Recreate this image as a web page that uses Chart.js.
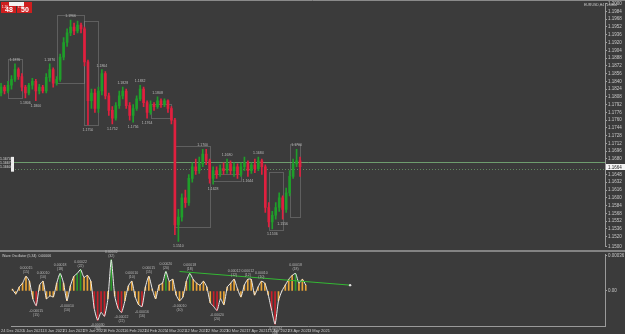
<!DOCTYPE html>
<html>
<head>
<meta charset="utf-8">
<script src="https://cdn.jsdelivr.net/npm/chart.js@4.4.1/dist/chart.umd.min.js"></script>
<style>
body { margin: 0; background: #3b3b3b; overflow: hidden; }
#wrap { position: relative; width: 625px; height: 334px; }
.pane { position: absolute; left: 0; }
</style>
</head>
<body>
<div id="wrap">
  <div class="pane" style="top:0"><canvas id="priceChart" width="625" height="250"></canvas></div>
  <div class="pane" style="top:250px"><canvas id="oscChart" width="625" height="84"></canvas></div>
</div>
<script>
// ****** datos de velas ******
const opens = [1.1816,1.1828,1.1820,1.1832,1.1844,1.1864,1.1850,1.1828,1.1816,1.1832,
  1.1840,1.1820,1.1828,1.1820,1.1848,1.1864,1.1836,1.1844,1.1890,1.1920,
  1.1940,1.1952,1.1944,1.1956,1.1948,1.1880,1.1800,1.1816,1.1784,1.1820,
  1.1856,1.1810,1.1780,1.1764,1.1790,1.1810,1.1820,1.1790,1.1770,1.1784,
  1.1804,1.1824,1.1796,1.1776,1.1792,1.1788,1.1800,1.1792,1.1800,1.1784,
  1.1760,1.1544,1.1560,1.1600,1.1590,1.1640,1.1664,1.1656,1.1670,1.1690,
  1.1676,1.1640,1.1656,1.1648,1.1660,1.1656,1.1670,1.1656,1.1664,1.1648,
  1.1664,1.1672,1.1656,1.1668,1.1660,1.1676,1.1664,1.1580,1.1550,1.1564,
  1.1580,1.1600,1.1576,1.1610,1.1644,1.1670,1.1676];
const closes = [1.1828,1.1820,1.1832,1.1844,1.1864,1.1850,1.1828,1.1816,1.1832,1.1840,
  1.1820,1.1828,1.1820,1.1848,1.1864,1.1836,1.1844,1.1890,1.1920,1.1940,
  1.1952,1.1944,1.1956,1.1948,1.1880,1.1800,1.1816,1.1784,1.1820,1.1856,
  1.1810,1.1780,1.1764,1.1790,1.1810,1.1820,1.1790,1.1770,1.1784,1.1804,
  1.1824,1.1796,1.1776,1.1792,1.1788,1.1800,1.1792,1.1800,1.1784,1.1760,
  1.1544,1.1560,1.1600,1.1590,1.1640,1.1664,1.1656,1.1670,1.1690,1.1676,
  1.1640,1.1656,1.1648,1.1660,1.1656,1.1670,1.1656,1.1664,1.1648,1.1664,
  1.1672,1.1656,1.1668,1.1660,1.1676,1.1664,1.1580,1.1550,1.1564,1.1580,
  1.1600,1.1576,1.1610,1.1644,1.1670,1.1676,1.1664];
const highs = [1.1836,1.1832,1.1840,1.1852,1.1876,1.1868,1.1856,1.1832,1.1836,1.1846,
  1.1844,1.1834,1.1832,1.1856,1.1876,1.1868,1.1850,1.1896,1.1930,1.1948,
  1.1966,1.1960,1.1964,1.1960,1.1952,1.1884,1.1824,1.1824,1.1828,1.1864,
  1.1860,1.1816,1.1788,1.1796,1.1820,1.1828,1.1824,1.1796,1.1792,1.1810,
  1.1832,1.1828,1.1800,1.1800,1.1796,1.1808,1.1804,1.1804,1.1802,1.1788,
  1.1764,1.1576,1.1608,1.1616,1.1648,1.1672,1.1680,1.1684,1.1700,1.1700,
  1.1680,1.1664,1.1664,1.1668,1.1672,1.1680,1.1676,1.1672,1.1670,1.1672,
  1.1684,1.1676,1.1672,1.1680,1.1684,1.1680,1.1668,1.1590,1.1572,1.1590,
  1.1610,1.1604,1.1620,1.1656,1.1680,1.1700,1.1684];
const lows = [1.1810,1.1814,1.1816,1.1824,1.1840,1.1844,1.1820,1.1806,1.1812,1.1824,
  1.1800,1.1814,1.1816,1.1816,1.1840,1.1828,1.1832,1.1840,1.1884,1.1912,
  1.1934,1.1936,1.1940,1.1940,1.1872,1.1750,1.1784,1.1776,1.1776,1.1812,
  1.1804,1.1770,1.1752,1.1760,1.1784,1.1804,1.1784,1.1760,1.1756,1.1780,
  1.1800,1.1788,1.1764,1.1772,1.1780,1.1784,1.1786,1.1788,1.1776,1.1752,
  1.1524,1.1510,1.1552,1.1580,1.1584,1.1632,1.1648,1.1650,1.1664,1.1668,
  1.1630,1.1628,1.1640,1.1644,1.1648,1.1650,1.1648,1.1644,1.1640,1.1644,
  1.1656,1.1644,1.1650,1.1652,1.1656,1.1648,1.1570,1.1540,1.1536,1.1556,
  1.1572,1.1556,1.1570,1.1604,1.1640,1.1664,1.1644];

// ****** oscilador ******
const oscValues = [2,-3,4,8,15,10,-8,-15,6,10,
  -8,-5,-6,8,18,8,-10,5,15,18,
  22,14,16,10,-18,-30,-22,-26,-8,32,
  -5,-18,-22,-10,5,10,-6,-14,-16,4,
  15,2,-8,6,8,20,10,12,-4,-10,
  -6,10,18,12,8,6,10,4,-12,-16,
  -20,-8,-14,4,8,12,2,-6,6,12,
  12,-4,4,10,8,-4,-20,-34,-10,0,
  6,12,16,18,8,12,6];
const oscMarks = [4,7,9,14,16,20,25,29,32,35,38,40,45,49,52,60,65,69,73,77,83];
const trendX = [49, 99];
const trendY = [20, 6];
const oscTicks = [0, 36];

// ****** eje de tiempo ******
const tickIdx = [0,6,12,18,24,30,36,42,48,54,60,66,72,78,84,90];
const timeLabels = ['24 Dec 2020','5 Jan 2021','13 Jan 2021','21 Jan 2021','29 Jan 2021','8 Feb 2021',
  '16 Feb 2021','24 Feb 2021','4 Mar 2021','12 Mar 2021','22 Mar 2021','30 Mar 2021',
  '7 Apr 2021','15 Apr 2021','23 Apr 2021','3 May 2021'];

// ****** niveles, cajas y etiquetas ******
const levels = [1.1674, 1.1660];
const levelNames = ['1.16740', '1.16670', '1.16600'];
const boxes = [[2,6,1.1886,1.1806],[16,24,1.1976,1.1836],[24,28,1.1964,1.1750],
  [43,49,1.1794,1.1764],[50,60,1.1706,1.1540],[61,69,1.1650,1.1634],
  [77,81,1.1654,1.1534],[83,86,1.1710,1.1560]];
const swingHighs = [4,14,20,29,35,40,45,58,65,74,85];
const swingLows = [7,10,25,32,38,42,51,61,71,78,81];

const xMin = -0.3, xMax = 173.7;
const GREEN = '#1f9e2a', RED = '#e0203f';

const isUp = closes.map((c, i) => c >= opens[i]);
const candleColors = isUp.map(u => u ? GREEN : RED);

function fixWidth(s) { s.width = 20; }

/****** Gráfica de precio ******/
const priceDecor = {
  id: 'priceDecor',
  beforeDatasetsDraw(chart) {
    const {ctx, scales: {x, y}, chartArea} = chart;
    ctx.save();
    ctx.lineWidth = 1;
    ctx.strokeStyle = 'rgba(150,150,150,0.4)';
    boxes.forEach(b => {
      const x0 = Math.round(x.getPixelForValue(b[0])), x1 = Math.round(x.getPixelForValue(b[1]));
      const y0 = Math.round(y.getPixelForValue(b[2])), y1 = Math.round(y.getPixelForValue(b[3]));
      ctx.strokeRect(x0 + 0.5, y0 + 0.5, x1 - x0, y1 - y0);
    });
    // lineas de nivel
    levels.forEach((lv, k) => {
      const py = Math.round(y.getPixelForValue(lv)) + 0.5;
      ctx.strokeStyle = k === 0 ? 'rgba(120,175,120,0.85)' : 'rgba(110,160,110,0.75)';
      ctx.setLineDash(k === 0 ? [] : [1, 2]);
      ctx.beginPath();
      ctx.moveTo(12, py);
      ctx.lineTo(chartArea.right, py);
      ctx.stroke();
    });
    ctx.setLineDash([]);
    ctx.restore();
  },
  afterDatasetsDraw(chart) {
    const {ctx, scales: {x, y}, chartArea} = chart;
    ctx.save();
    ctx.font = '3.5px Arial';
    ctx.fillStyle = '#bcbcbc';
    ctx.textAlign = 'center';
    swingHighs.forEach(i => {
      ctx.fillText(highs[i].toFixed(4), x.getPixelForValue(i), y.getPixelForValue(highs[i]) - 3);
    });
    swingLows.forEach(i => {
      ctx.fillText(lows[i].toFixed(4), x.getPixelForValue(i), y.getPixelForValue(lows[i]) + 6);
    });
    // etiquetas a la izquierda
    ctx.textAlign = 'left';
    const ly0 = y.getPixelForValue(levels[0]);
    const ly1 = y.getPixelForValue(levels[1]);
    ctx.fillStyle = '#f0f0f0';
    ctx.fillRect(11, ly0 - 5, 3, ly1 - ly0 + 8);
    ctx.fillStyle = '#dddddd';
    ctx.font = '3.5px Arial';
    levelNames.forEach((t, k) => ctx.fillText(t, 0, ly0 - 2 + k * 4));
    // precio actual en el eje
    const last = closes[closes.length - 1];
    const cy = Math.round(y.getPixelForValue(last));
    ctx.fillStyle = '#f4f4f4';
    ctx.fillRect(chartArea.right + 1, cy - 3, 19, 6);
    ctx.fillStyle = '#222';
    ctx.font = '4.5px Arial';
    ctx.fillText(last.toFixed(4), chartArea.right + 3, cy + 1.5);
    // panel de operaciones
    ctx.fillStyle = '#cf1f1f';
    ctx.fillRect(1, 2, 15, 11);
    ctx.fillRect(17, 2, 15, 11);
    ctx.fillStyle = '#f2f2f2';
    ctx.fillRect(9, 2, 15, 4);
    ctx.fillStyle = '#ffffff';
    ctx.font = 'bold 7px Arial';
    ctx.fillText('48', 5, 12);
    ctx.fillText('50', 21, 12);
    ctx.font = '3px Arial';
    ctx.fillText('1.16', 2, 8);
    ctx.fillText('1.16', 18, 8);
    ctx.fillStyle = '#c8c8c8';
    ctx.font = '3.5px Arial';
    ctx.fillText('EURUSD,H4  1.1664', 584, 6);
    // marco
    ctx.strokeStyle = '#8a8a8a';
    ctx.lineWidth = 1;
    ctx.beginPath();
    ctx.moveTo(0, 0.5);
    ctx.lineTo(625, 0.5);
    ctx.stroke();
    ctx.restore();
  }
};

new Chart(document.getElementById('priceChart').getContext('2d'), {
  type: 'bar',
  data: {
    datasets: [{
      label: 'Cuerpo',
      data: opens.map((o, i) => ({x: i, y: [o, closes[i]]})),
      backgroundColor: candleColors,
      barThickness: 2,
      minBarLength: 1,
      grouped: false
    }, {
      label: 'Mecha',
      data: lows.map((l, i) => ({x: i, y: [l, highs[i]]})),
      backgroundColor: candleColors,
      barThickness: 1,
      grouped: false
    }]
  },
  options: {
    responsive: false,
    animation: false,
    layout: {padding: 0},
    scales: {
      x: {
        type: 'linear', min: xMin, max: xMax, offset: false, display: false
      },
      y: {
        position: 'right', min: 1.1500, max: 1.2000,
        afterFit: fixWidth,
        grid: {drawOnChartArea: false, color: '#a0a0a0', tickLength: 2},
        border: {color: '#9a9a9a'},
        ticks: {
          stepSize: 0.0016, autoSkip: false, padding: 1, color: '#c8c8c8',
          font: {size: 4.5, family: 'Arial'},
          callback: v => v.toFixed(4)
        }
      }
    },
    plugins: {legend: {display: false}, tooltip: {enabled: false}}
  },
  plugins: [priceDecor]
});

/****** Gráfica del oscilador ******/
const oscDecor = {
  id: 'oscDecor',
  beforeDatasetsDraw(chart) {
    const {ctx} = chart;
    ctx.save();
    ctx.strokeStyle = '#9c9c9c';
    ctx.lineWidth = 1.5;
    ctx.beginPath();
    ctx.moveTo(0, 1);
    ctx.lineTo(625, 1);
    ctx.stroke();
    ctx.restore();
  },
  afterDatasetsDraw(chart) {
    const {ctx, scales: {x, y}} = chart;
    ctx.save();
    ctx.font = '3.5px Arial';
    ctx.fillStyle = '#d0d0d0';
    ctx.fillText('Wave Oscillator (5,34)  0.00006', 2, 7);
    ctx.textAlign = 'center';
    ctx.fillStyle = '#b8b8b8';
    oscMarks.forEach(i => {
      const v = oscValues[i];
      const px = x.getPixelForValue(i);
      const py = y.getPixelForValue(v);
      const t1 = (v * 0.00001).toFixed(5);
      const t2 = '(' + Math.abs(v) + ')';
      if (v >= 0) {
        ctx.fillText(t1, px, py - 7);
        ctx.fillText(t2, px, py - 3);
      } else {
        ctx.fillText(t1, px, py + 6);
        ctx.fillText(t2, px, py + 10);
      }
    });
    ctx.restore();
  }
};

new Chart(document.getElementById('oscChart').getContext('2d'), {
  type: 'bar',
  data: {
    datasets: [{
      type: 'line',
      label: 'Tendencia',
      data: trendX.map((v, k) => ({x: v, y: trendY[k]})),
      borderColor: '#34b834',
      borderWidth: 1,
      pointRadius: [0, 1.2],
      pointBackgroundColor: '#e0e0e0',
      pointBorderWidth: 0
    }, {
      type: 'line',
      label: 'Linea',
      data: oscValues.map((v, i) => ({x: i, y: v})),
      borderColor: '#ececec',
      borderWidth: 1,
      tension: 0.2,
      pointRadius: 0
    }, {
      label: 'Histograma',
      data: oscValues.map((v, i) => ({x: i, y: v})),
      backgroundColor: oscValues.map(v => v <= -15 ? '#c8202a' : (v >= 18 ? '#2a9a2a' : '#e8a437')),
      barThickness: 1,
      grouped: false
    }]
  },
  options: {
    responsive: false,
    animation: false,
    layout: {padding: {top: 2}},
    scales: {
      x: {
        type: 'linear', min: xMin, max: xMax, offset: false,
        afterFit: s => { s.height = 8; },
        afterBuildTicks: s => { s.ticks = tickIdx.map(v => ({value: v})); },
        grid: {drawOnChartArea: false, color: '#a0a0a0', tickLength: 1},
        border: {color: '#9a9a9a'},
        ticks: {
          autoSkip: false, maxRotation: 0, padding: 1, color: '#c8c8c8',
          font: {size: 4, family: 'Arial'},
          callback: v => timeLabels[tickIdx.indexOf(v)] || ''
        }
      },
      y: {
        position: 'right', min: -36, max: 38,
        afterFit: fixWidth,
        afterBuildTicks: s => { s.ticks = oscTicks.map(v => ({value: v})); },
        grid: {drawOnChartArea: false, color: '#a0a0a0', tickLength: 2},
        border: {color: '#9a9a9a'},
        ticks: {
          padding: 1, color: '#c8c8c8',
          font: {size: 4.5, family: 'Arial'},
          callback: v => v === 0 ? '0.00' : (v * 0.00001).toFixed(5)
        }
      }
    },
    plugins: {legend: {display: false}, tooltip: {enabled: false}}
  },
  plugins: [oscDecor]
});
</script>
</body>
</html>
